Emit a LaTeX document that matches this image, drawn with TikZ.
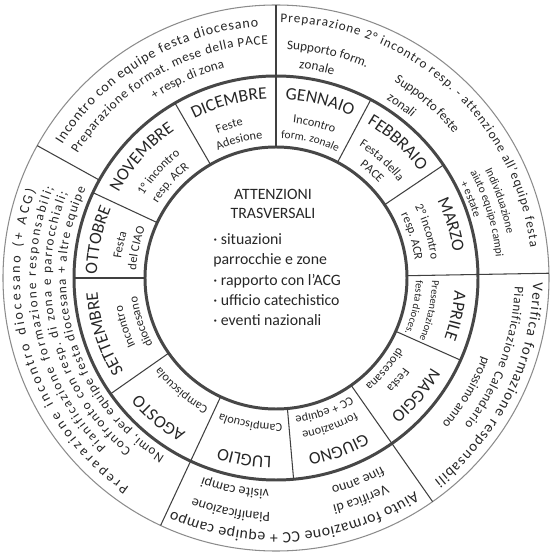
\documentclass[tikz,border=0pt]{standalone}
\usepackage{fontspec}
\setmainfont{Carlito}
\usetikzlibrary{decorations.text}
\tikzset{
  rim/.style ={draw=black!45,line width=0.6pt},
  band/.style={draw=black!72,line width=1.7pt},
  cut/.style ={draw=black!75,line width=0.6pt},
  head/.style={font=\fontsize{9}{10.5}\selectfont,align=center,text=black!85},
  list/.style={font=\fontsize{9}{11.6}\selectfont,align=left,text=black!85,inner sep=0pt},
}
\newcommand{\fs}[1]{\fontsize{#1}{#1}\selectfont\color{black!85}}
% text on an arc, clockwise from #4 to #5, letters facing outwards
\newcommand{\arctxt}[6][center]{%
  \path[decorate,decoration={text along path,text align=#1,text={|#2|#6}}]
    ({#4}:#3) arc[start angle={#4},end angle={#5},radius=#3];}
\newcommand{\arcmid}[4][\fs{7}]{\arctxt{#1}{#2}{#3+50}{#3-50}{#4}}

\begin{document}
\begin{tikzpicture}[x=0.2mm,y=0.2mm]
\useasboundingbox (-276,-277) rectangle (274,278);

\draw[rim]  (0,0) circle[radius=273];
\draw[band] (0,0) circle[radius=202];
\draw[band] (0,0) circle[radius=131];
\foreach \a in {90,62,34,1,-24,-55,-85,-115,-145,-180,155,120}
  \draw[cut] (\a:131) -- (\a:202);
\foreach \a in {90,1,-55,-115,151}
  \draw[cut] (\a:202) -- (\a:273);

% months
\arcmid[\fs{10}]{179}{105}{DICEMBRE}
\arcmid[\fs{10}]{179}{76}{GENNAIO}
\arcmid[\fs{10}]{179}{48}{FEBBRAIO}
\arcmid[\fs{10}]{179}{17}{MARZO}
\arcmid[\fs{10}]{179}{-12}{APRILE}
\arcmid[\fs{10}]{179}{-40}{MAGGIO}
\arcmid[\fs{10}]{179}{-70}{GIUGNO}
\arcmid[\fs{10}]{179}{-100}{LUGLIO}
\arcmid[\fs{10}]{179}{-130}{AGOSTO}
\arcmid[\fs{10}]{179}{-162}{SETTEMBRE}
\arcmid[\fs{10}]{179}{168}{OTTOBRE}
\arcmid[\fs{10}]{179}{138}{NOVEMBRE}

\arcmid{156}{107}{Feste}
\arcmid{140}{105}{Adesione}
\arcmid{156}{76}{Incontro}
\arcmid[\fs{6.5}]{140}{76}{form. zonale}
\arcmid{156}{48}{Festa della}
\arcmid{140}{48}{PACE}
\arcmid{156}{17}{2° incontro}
\arcmid{140}{17}{resp. ACR}
\arcmid[\fs{6}]{156}{-12}{Presentazione}
\arcmid[\fs{6}]{140}{-12}{festa dioces.}
\arcmid{156}{-40}{Festa}
\arcmid{140}{-40}{diocesana}
\arcmid{156}{-70}{formazione}
\arcmid{140}{-70}{CC + equipe}
\arcmid{146}{-100}{Campiscuola}
\arcmid{146}{-130}{Campiscuola}
\arcmid{156}{-162}{Incontro}
\arcmid{140}{-162}{diocesano}
\arcmid{156}{168}{Festa}
\arcmid{140}{168}{del CIAO}
\arcmid{156}{138}{1° incontro}
\arcmid{140}{138}{resp. ACR}

% outer ring
\arctxt[fit to path]{\fs{8}}{252}{148}{94}{Incontro con equipe festa diocesano}
\arctxt[fit to path]{\fs{7.5}}{234}{148}{92}{Preparazione format. mese della PACE}
\arcmid[\fs{7.5}]{216}{114}{+ resp. di zona}

\arctxt[fit to path]{\fs{7.5}}{256}{89}{7}{Preparazione 2° incontro resp. - attenzione all'equipe festa}
\arcmid[\fs{7.5}]{229}{77}{Supporto form.}
\arcmid[\fs{7.5}]{211}{79}{zonale}
\arcmid[\fs{7.5}]{229}{49}{Supporto feste}
\arcmid[\fs{7.5}]{210}{54}{zonali}
\arcmid[\fs{6.5}]{235}{19}{Individuazione}
\arcmid[\fs{6.5}]{221}{17}{aiuto equipe campi}
\arcmid[\fs{6.5}]{207}{22}{+ estate}

\arctxt[fit to path]{\fs{8.5}}{257}{-1}{-52}{Verifica formazione responsabili}
\arctxt[fit to path]{\fs{7.5}}{239}{-2}{-38}{Pianificazione Calendario}
\arcmid[\fs{7.5}]{221}{-31}{prossimo anno}

\arctxt[fit to path]{\fs{9}}{255}{-57}{-114}{Aiuto formazione CC + equipe campo}
\arcmid[\fs{8}]{234}{-69}{Verifica di}
\arcmid[\fs{8}]{216}{-68}{fine anno}
\arcmid[\fs{8}]{235}{-101}{Pianificazione}
\arcmid[\fs{8}]{212}{-101}{visite campi}

\arctxt[fit to path]{\fs{8}}{256}{235}{160}{Preparazione incontro diocesano (+ ACG)}
\arctxt[fit to path]{\fs{7.5}}{240}{225}{158}{Pianificazione formazione responsabili;}
\arctxt[fit to path]{\fs{7.5}}{225}{230}{158}{Confronto con resp. di zona e parrocchiali;}
\arctxt[fit to path]{\fs{7.5}}{210}{238}{155}{Nomi, per equipe festa diocesana + altre equipe}

% centre
\node[head] (title) at (-3,74) {ATTENZIONI\\TRASVERSALI};
\node[list,anchor=north west] (notes) at (-63,45)
  {· situazioni\\parrocchie e zone\\· rapporto con l'ACG\\· ufficio catechistico\\· eventi nazionali};
\end{tikzpicture}
\end{document}
